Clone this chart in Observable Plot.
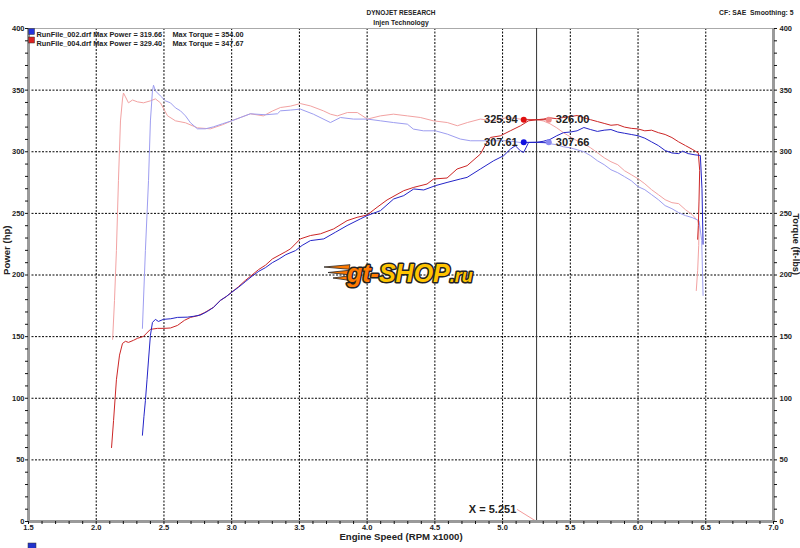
<!DOCTYPE html>
<html>
<head>
<meta charset="utf-8">
<script src="https://cdn.jsdelivr.net/npm/d3@7"></script>
<script src="https://cdn.jsdelivr.net/npm/@observablehq/plot@0.6"></script>
<style>
  html, body { margin: 0; padding: 0; background: #fff; }
  #chart svg { display: block; }
</style>
</head>
<body>
<div id="chart"></div>
<script>
// ---------- data ----------
const runNames = ["RunFile_002.drf", "RunFile_004.drf"];
const maxPower = [319.66, 329.40];
const maxTorque = [354.00, 347.67];
const runColors = { power002: "#2424c8", torque002: "#9d9df0", power004: "#cc2626", torque004: "#f2a2a2" };

const xMajorTicks = [1.5, 2.0, 2.5, 3.0, 3.5, 4.0, 4.5, 5.0, 5.5, 6.0, 6.5, 7.0];
const yMajorTicks = [0, 50, 100, 150, 200, 250, 300, 350, 400];

const cursorRpm = 5.251;
const readPower = [325.94, 307.61];   // run 004, run 002
const readTorque = [326.00, 307.66];  // run 004, run 002

// [rpm x1000, hp]
const power002 = [[2.341,70],[2.352,85],[2.363,98],[2.375,115],[2.386,131],[2.4,151],[2.415,161.5],[2.437,164],[2.459,162.3],[2.496,164],[2.55,164.5],[2.6,165.6],[2.673,165.8],[2.72,166.5],[2.77,167.5],[2.82,170.4],[2.865,173.7],[2.917,179.4],[2.96,182.5],[3.0,186],[3.05,190],[3.1,194.5],[3.15,199],[3.2,203],[3.25,206],[3.3,210],[3.35,213],[3.4,216.5],[3.471,219.8],[3.52,224],[3.581,227.9],[3.68,229.3],[3.766,234.7],[3.852,240.1],[3.95,245.5],[4.0,248.2],[4.098,252.2],[4.196,261.7],[4.27,264.4],[4.344,269.8],[4.418,269],[4.504,272.5],[4.59,275.1],[4.688,277.9],[4.738,279.2],[4.836,286],[4.934,292.7],[5.008,296.8],[5.058,302.2],[5.094,304.9],[5.131,300.8],[5.155,299.4],[5.192,307.5],[5.251,307.61],[5.3,308.5],[5.35,310],[5.4,313],[5.45,315.5],[5.5,316],[5.55,317],[5.6,319.66],[5.65,318],[5.7,316.5],[5.75,317.5],[5.8,318],[5.85,316],[5.9,315],[5.95,314],[6.0,313],[6.05,311],[6.1,308],[6.15,305],[6.2,301],[6.25,299],[6.3,298.5],[6.33,300.5],[6.37,298.5],[6.42,297.5],[6.46,297],[6.472,270],[6.48,225]];

// [rpm x1000, ft-lbs]
const torque002 = [[2.341,156.7],[2.363,219.8],[2.386,276.5],[2.4,325],[2.415,349.4],[2.423,354],[2.437,349.4],[2.474,345.3],[2.511,341.3],[2.548,339.7],[2.585,335.6],[2.622,333.2],[2.659,329.1],[2.696,323.5],[2.747,318.6],[2.806,318.6],[2.865,320.2],[2.932,322.7],[3.0,325.1],[3.07,328],[3.138,330.8],[3.249,330],[3.338,330.8],[3.36,333.2],[3.434,333.8],[3.507,334.6],[3.603,330.5],[3.729,323.7],[3.803,327.8],[3.899,326.5],[4.002,326.5],[4.098,325.1],[4.194,323.7],[4.297,322.4],[4.341,318.4],[4.415,317],[4.504,317],[4.592,314.3],[4.688,310.3],[4.762,308.9],[4.887,308.9],[5.035,308.9],[5.131,307.5],[5.251,307.66],[5.3,307.3],[5.35,306.5],[5.4,305.7],[5.45,304],[5.5,303.2],[5.55,301.6],[5.6,300],[5.65,296.8],[5.7,292.7],[5.75,289.5],[5.8,285.4],[5.85,283],[5.9,279.8],[5.95,276.5],[6.0,271.7],[6.05,269.2],[6.1,265.2],[6.15,261.1],[6.2,256.3],[6.25,253.8],[6.3,250.6],[6.35,248.2],[6.4,246.6],[6.45,244.1],[6.47,228],[6.48,183.4]];

const power004 = [[2.113,60],[2.128,82],[2.149,115],[2.172,135],[2.194,144.5],[2.216,146.2],[2.238,145.3],[2.275,147],[2.304,148.6],[2.349,150.2],[2.4,155.9],[2.452,156.7],[2.5,156.7],[2.548,157],[2.6,159.1],[2.651,163.2],[2.696,165.6],[2.75,167],[2.8,169.5],[2.865,173.7],[2.917,179.4],[2.96,182.5],[3.0,186],[3.05,190.5],[3.1,195.5],[3.15,200],[3.2,204.5],[3.25,208],[3.3,213],[3.35,216],[3.4,219],[3.434,221.2],[3.507,229.3],[3.581,232],[3.655,233.4],[3.753,237.4],[3.852,244.1],[3.926,246.8],[4.0,248.7],[4.073,254.9],[4.147,260.9],[4.27,268.4],[4.344,271.1],[4.442,273.8],[4.491,277.9],[4.59,278.7],[4.664,286],[4.738,288.7],[4.836,298.1],[4.87,305],[4.91,311.6],[4.983,312.9],[5.057,317],[5.131,321],[5.192,325.1],[5.251,325.94],[5.3,326.5],[5.35,327.5],[5.4,326.8],[5.45,327.8],[5.5,328.5],[5.55,329.4],[5.6,327.5],[5.65,326],[5.7,324.5],[5.75,323],[5.8,321.5],[5.85,322],[5.9,320],[5.95,319],[6.0,318.5],[6.05,317],[6.1,317.5],[6.15,315.5],[6.2,314],[6.25,311.5],[6.3,308],[6.35,305],[6.4,302],[6.43,300],[6.445,299],[6.455,285],[6.45,260],[6.445,240],[6.44,229]];

const torque004 = [[2.121,147.8],[2.135,179.4],[2.149,219.8],[2.164,276.5],[2.179,325],[2.194,342.8],[2.201,347.67],[2.216,344.5],[2.238,339.7],[2.268,342],[2.304,340.5],[2.349,339.7],[2.4,341.3],[2.437,342.9],[2.474,339.7],[2.526,329.2],[2.585,325.1],[2.659,323.5],[2.747,319.4],[2.843,318.6],[2.932,321.9],[3.0,325.1],[3.07,328],[3.138,330.8],[3.234,329.1],[3.3,333],[3.36,335.9],[3.434,337],[3.507,339.1],[3.581,337.2],[3.677,333.2],[3.729,330.5],[3.78,329.1],[3.854,331.8],[3.928,331.8],[4.002,326.5],[4.098,329.1],[4.194,330.5],[4.297,329.1],[4.393,327.8],[4.489,325.1],[4.592,323.7],[4.666,321.1],[4.74,323.7],[4.836,326.5],[4.932,325.1],[5.035,327.8],[5.131,326.5],[5.251,326.0],[5.3,325],[5.35,322.7],[5.4,319.4],[5.45,315.4],[5.5,312.1],[5.55,308.9],[5.6,306.5],[5.65,303.2],[5.7,299.2],[5.75,295.1],[5.8,291.9],[5.85,289.5],[5.9,284.6],[5.95,281.4],[6.0,278.1],[6.05,274],[6.1,269.2],[6.15,265.2],[6.2,261.1],[6.25,258.7],[6.3,257.9],[6.35,253],[6.4,249],[6.44,244],[6.45,240.9],[6.448,224],[6.44,203.6],[6.43,187.4]];

// ---------- derived ----------
const xMinorTicks = d3.range(15, 71).map(v => v / 10).filter(v => !xMajorTicks.some(m => Math.abs(m - v) < 1e-9));
const yMinorTicks = d3.range(0, 401, 10).filter(v => v % 50 !== 0);
const gridX = xMajorTicks.filter(v => v > 1.5 && v < 7);
const gridY = yMajorTicks.filter(v => v > 0 && v < 400);

const fontBold = { fontWeight: "bold", fill: "#222" };
const leftX = cursorRpm - 0.095, rightX = cursorRpm + 0.09;

const readoutRows = [
  { x1: leftX, x2: rightX, y1: readPower[0], y2: readTorque[0], c1: "#e01010", c2: "#f08a8a", line: "#cc2626" },
  { x1: leftX, x2: rightX, y1: readPower[1], y2: readTorque[1], c1: "#1010e0", c2: "#8a8af0", line: "#2424c8" }
];

const gridStyle = { stroke: "#000", strokeOpacity: 1, strokeWidth: 1, strokeDasharray: "2,1.5" };

const chart = Plot.plot({
  width: 800,
  height: 548,
  marginTop: 28,
  marginRight: 27,
  marginBottom: 27,
  marginLeft: 28,
  x: { domain: [1.5, 7] },
  y: { domain: [0, 400] },
  style: { fontFamily: "'Liberation Sans', Arial, sans-serif", fontSize: "7.5px", background: "#fff", overflow: "visible" },
  marks: [
    Plot.ruleX(gridX, gridStyle),
    Plot.ruleY(gridY, gridStyle),
    Plot.ruleY([400], { stroke: "#aaa", strokeWidth: 1 }),

    // torque curves (light), then power curves (dark)
    Plot.line(torque004, { x: d => d[0], y: d => d[1], stroke: runColors.torque004, strokeWidth: 1 }),
    Plot.line(torque002, { x: d => d[0], y: d => d[1], stroke: runColors.torque002, strokeWidth: 1 }),
    Plot.line(power004, { x: d => d[0], y: d => d[1], stroke: runColors.power004, strokeWidth: 1 }),
    Plot.line(power002, { x: d => d[0], y: d => d[1], stroke: runColors.power002, strokeWidth: 1 }),

    // cursor
    Plot.ruleX([cursorRpm], { stroke: "#333", strokeWidth: 1 }),
    Plot.link([cursorRpm], { x1: d => d - 0.144, y1: 9.8, x2: d => d, y2: 0, stroke: "#f08080", strokeWidth: 0.8 }),
    Plot.text([cursorRpm], { x: d => d - 0.15, y: 9.8, text: d => `X = ${d.toFixed(3)}`, textAnchor: "end", fontSize: 11, ...fontBold }),

    // readouts
    Plot.link(readoutRows, { x1: "x1", x2: "x2", y1: "y1", y2: "y2", stroke: "line", strokeWidth: 1 }),
    Plot.dot(readoutRows, { x: "x1", y: "y1", fill: "c1", r: 3 }),
    Plot.dot(readoutRows, { x: "x2", y: "y2", fill: "c2", r: 3 }),
    Plot.text(readoutRows, { x: "x1", y: "y1", text: d => d.y1.toFixed(2), textAnchor: "end", dx: -6, fontSize: 11, ...fontBold }),
    Plot.text(readoutRows, { x: "x2", y: "y2", text: d => d.y2.toFixed(2), textAnchor: "start", dx: 7, fontSize: 11, ...fontBold }),

    // frame bands
    Plot.ruleX([1.5, 7], { stroke: "#9a9a9a", strokeWidth: 3 }),
    Plot.ruleY([0], { stroke: "#9a9a9a", strokeWidth: 3 }),

    // axes
    Plot.axisX({ ticks: xMajorTicks, tickFormat: d3.format(".1f"), tickSize: 3, tickPadding: 0, label: null, ...fontBold, stroke: "#111" }),
    Plot.axisX({ ticks: xMinorTicks, tickFormat: () => "", tickSize: 3, label: null, stroke: "#111" }),
    Plot.axisY({ ticks: yMajorTicks, tickSize: 3, tickPadding: 1, label: null, ...fontBold, stroke: "#111" }),
    Plot.axisY({ ticks: yMinorTicks, tickFormat: () => "", tickSize: 3, label: null, stroke: "#111" }),
    Plot.axisY({ anchor: "right", ticks: yMajorTicks, tickSize: 3, tickPadding: 3, label: null, ...fontBold, stroke: "#111" }),
    Plot.axisY({ anchor: "right", ticks: yMinorTicks, tickFormat: () => "", tickSize: 3, label: null, stroke: "#111" }),

    // titles
    Plot.text(["DYNOJET RESEARCH"], { frameAnchor: "top", dy: -18, text: d => d, fontSize: 6.5, ...fontBold }),
    Plot.text(["Injen Technology"], { frameAnchor: "top", dy: -8, text: d => d, fontSize: 6.8, ...fontBold }),
    Plot.text(["CF: SAE  Smoothing: 5"], { frameAnchor: "top-right", dx: 20, dy: -18, textAnchor: "end", text: d => d, fontSize: 6.8, ...fontBold }),
    Plot.text(["Engine Speed (RPM x1000)"], { frameAnchor: "bottom", dy: 18, text: d => d, fontSize: 9.6, ...fontBold }),
    Plot.text(["Power (hp)"], { frameAnchor: "left", dx: -22, rotate: -90, text: d => d, fontSize: 9.6, ...fontBold }),
    Plot.text(["Torque (ft-lbs)"], { frameAnchor: "right", dx: 22, rotate: 90, text: d => d, fontSize: 9.2, ...fontBold }),

    // legend text
    Plot.text([0], { frameAnchor: "top-left", dx: 8, dy: 3.8, textAnchor: "start", text: () => `${runNames[0]} Max Power = ${maxPower[0].toFixed(2)}`, fontSize: 7.3, ...fontBold }),
    Plot.text([0], { frameAnchor: "top-left", dx: 144, dy: 3.8, textAnchor: "start", text: () => `Max Torque = ${maxTorque[0].toFixed(2)}`, fontSize: 7.3, ...fontBold }),
    Plot.text([1], { frameAnchor: "top-left", dx: 8, dy: 12.3, textAnchor: "start", text: () => `${runNames[1]} Max Power = ${maxPower[1].toFixed(2)}`, fontSize: 7.3, ...fontBold }),
    Plot.text([1], { frameAnchor: "top-left", dx: 144, dy: 12.3, textAnchor: "start", text: () => `Max Torque = ${maxTorque[1].toFixed(2)}`, fontSize: 7.3, ...fontBold })
  ]
});

document.getElementById("chart").appendChild(chart);

// ---------- decorations (legend swatches, watermark logo) ----------
const svg = d3.select(chart);
const swatchColors = ["#2233dd", "#dd2222"];
swatchColors.forEach((c, i) => {
  svg.append("rect").attr("x", 28.5).attr("y", 28.5 + i * 8.5).attr("width", 6).attr("height", 6)
    .attr("fill", c).attr("stroke", "#333").attr("stroke-width", 0.5);
});
svg.append("rect").attr("x", 28).attr("y", 543).attr("width", 8).attr("height", 6).attr("fill", "#2233cc").attr("stroke", "#333").attr("stroke-width", 0.5);

const logo = svg.append("g").attr("text-anchor", "start");
[[267, 24], [272.5, 20], [278, 15]].forEach(([y, len]) => {
  logo.append("polygon")
    .attr("points", `${348 - len},${y} ${350},${y - 2.3} ${349},${y + 2.3}`)
    .attr("fill", "#ff7a00").attr("stroke", "#222").attr("stroke-width", 0.8).attr("stroke-linejoin", "round");
});
const t = logo.append("text")
  .attr("x", 347).attr("y", 282)
  .attr("text-anchor", "start")
  .attr("font-family", "'Liberation Sans', Arial, sans-serif")
  .attr("font-weight", "bold").attr("font-style", "italic")
  .attr("font-size", 25)
  .attr("stroke", "#222").attr("stroke-width", 3).attr("stroke-linejoin", "round")
  .attr("paint-order", "stroke");
t.append("tspan").attr("fill", "#ff7a00").text("gt-");
t.append("tspan").attr("fill", "#ffc400").text("SHOP");
t.append("tspan").attr("fill", "#ffc400").attr("font-size", 18).text(".ru");
</script>
</body>
</html>
